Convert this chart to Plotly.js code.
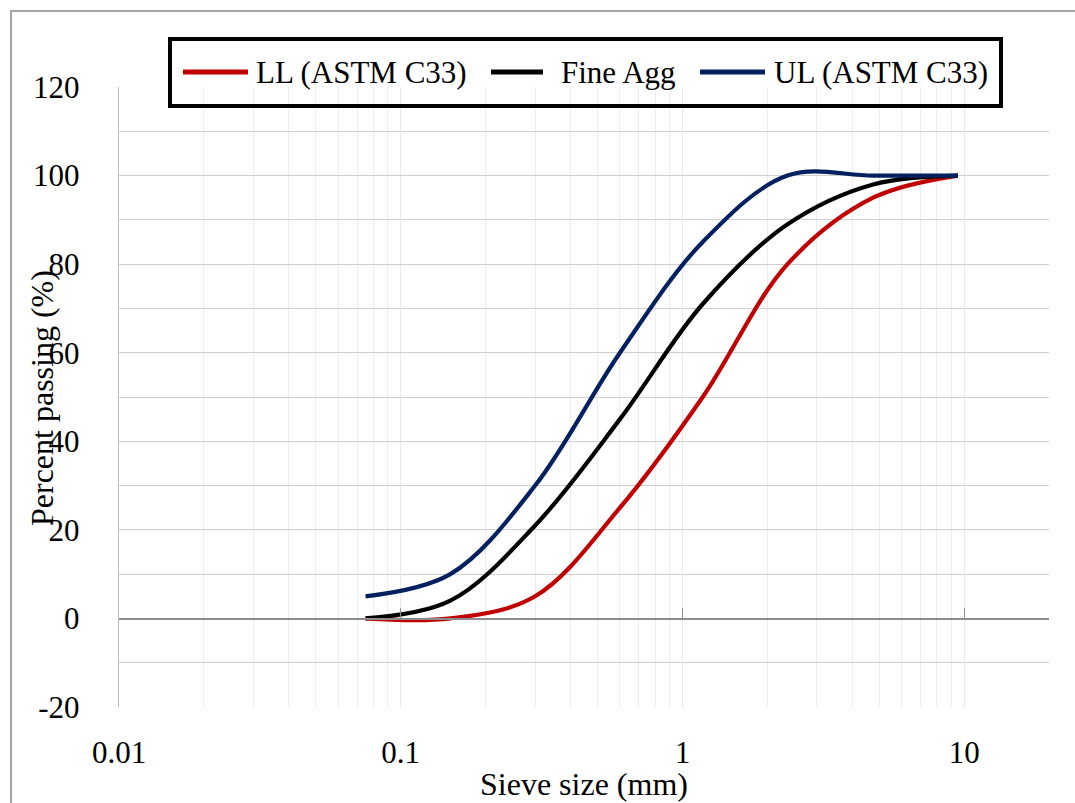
<!DOCTYPE html>
<html>
<head>
<meta charset="utf-8">
<script src="https://cdn.plot.ly/plotly-3.0.1.min.js"></script>
<style>
  html, body { margin: 0; padding: 0; background: #ffffff; overflow: hidden; }
  #frame { position: absolute; left: 10px; top: 10px; width: 2000px; height: 2000px;
           border-left: 2px solid #a6a6a6; border-top: 2px solid #a6a6a6; }
  #chart { position: absolute; left: 0; top: 0; width: 1075px; height: 803px; }
</style>
</head>
<body>
<div id="frame"></div>
<div id="chart"></div>
<script>
// ---- data ----
const sieveSizes     = [0.075, 0.15, 0.3, 0.6, 1.18, 2.36, 4.75, 9.5];
const llPassing      = [0, 0, 5, 25, 50, 80, 95, 100];
const fineAggPassing = [0, 4, 21, 45, 71, 89, 98, 100];
const ulPassing      = [5, 10, 30, 60, 85, 100, 100, 100];
const seriesNames    = ['LL (ASTM C33)', 'Fine Agg', 'UL (ASTM C33)'];
const xTickVals      = [0.01, 0.1, 1, 10];
const xTickText      = ['0.01', '0.1', '1', '10'];
const yTickVals      = [-20, 0, 20, 40, 60, 80, 100, 120];
const yTickText      = ['-20', '0', '20', '40', '60', '80', '100', '120'];

// ---- styling ----
const seriesColors = ['#c00000', '#000000', '#002060'];
const FONT = '"Liberation Serif", "Times New Roman", serif';
const W = 1075, H = 803;
const M = { l: 119, r: 26, t: 87, b: 96 };
const PW = W - M.l - M.r, PH = H - M.t - M.b;
const px2x = px => (px - M.l) / PW;
const px2y = py => (H - M.b - py) / PH;

const seriesValues = [llPassing, fineAggPassing, ulPassing];
const traces = seriesValues.map((vals, i) => ({
  type: 'scatter', mode: 'lines',
  x: sieveSizes, y: vals, name: seriesNames[i],
  line: { color: seriesColors[i], width: 4.2, shape: 'spline', smoothing: 1 },
  showlegend: false, hoverinfo: 'x+y+name'
}));

// custom legend (Excel style: long line samples, thick box)
const legendBox = { x0: 170, x1: 1001, y0: 39, y1: 106, yc: 72 };
const legendLineStart = [183, 491, 700];
const legendLineEnd   = [248, 543, 765];
const legendTextStart = [254, 559, 772];

const shapes = [{
  type: 'rect', xref: 'paper', yref: 'paper',
  x0: px2x(legendBox.x0), x1: px2x(legendBox.x1),
  y0: px2y(legendBox.y1), y1: px2y(legendBox.y0),
  line: { color: '#000000', width: 4 }, fillcolor: 'rgba(0,0,0,0)', layer: 'above'
}];
const annotations = [];
seriesNames.forEach((nm, i) => {
  shapes.push({
    type: 'line', xref: 'paper', yref: 'paper',
    x0: px2x(legendLineStart[i]), x1: px2x(legendLineEnd[i]),
    y0: px2y(legendBox.yc), y1: px2y(legendBox.yc),
    line: { color: seriesColors[i], width: 5 }, layer: 'above'
  });
  annotations.push({
    xref: 'paper', yref: 'paper', x: px2x(legendTextStart[i]), y: px2y(legendBox.yc),
    xanchor: 'left', yanchor: 'middle', showarrow: false, text: nm,
    font: { family: FONT, size: 31, color: '#000000' }
  });
});
// axis titles
annotations.push({
  xref: 'paper', yref: 'paper', x: px2x(42), y: px2y(398),
  xanchor: 'center', yanchor: 'middle', showarrow: false, textangle: -90,
  text: 'Percent passing (%)', font: { family: FONT, size: 32, color: '#000000' }
});
annotations.push({
  xref: 'paper', yref: 'paper', x: px2x(584), y: px2y(784),
  xanchor: 'center', yanchor: 'middle', showarrow: false,
  text: 'Sieve size (mm)', font: { family: FONT, size: 32, color: '#000000' }
});

const layout = {
  width: W, height: H,
  margin: M,
  paper_bgcolor: 'rgba(0,0,0,0)',
  plot_bgcolor: '#ffffff',
  showlegend: false,
  font: { family: FONT, size: 31, color: '#000000' },
  xaxis: {
    type: 'log',
    range: [Math.log10(0.01), Math.log10(20)],
    tickvals: xTickVals, ticktext: xTickText,
    anchor: 'free', position: 20 / 140,
    showline: true, linecolor: '#8c8c8c', linewidth: 1.5,
    ticks: 'inside', ticklen: 10, tickcolor: '#8c8c8c', tickwidth: 1.2,
    ticklabelstandoff: 106,
    showgrid: true, gridcolor: '#e8e8e8', gridwidth: 1,
    minor: { dtick: 'D1', showgrid: true, gridcolor: '#ececec', gridwidth: 1, ticks: '' },
    zeroline: false,
    tickfont: { family: FONT, size: 31, color: '#000000' }
  },
  yaxis: {
    range: [-20, 120],
    tickvals: yTickVals, ticktext: yTickText,
    showline: true, linecolor: '#bfbfbf', linewidth: 1.2,
    ticks: '', ticklabelstandoff: 32,
    showgrid: true, gridcolor: '#cfcfcf', gridwidth: 1,
    minor: { dtick: 10, showgrid: true, gridcolor: '#cfcfcf', gridwidth: 1, ticks: '' },
    zeroline: false,
    tickfont: { family: FONT, size: 31, color: '#000000' }
  },
  shapes: shapes,
  annotations: annotations
};

Plotly.newPlot('chart', traces, layout, { displayModeBar: false, staticPlot: true });
</script>
</body>
</html>
